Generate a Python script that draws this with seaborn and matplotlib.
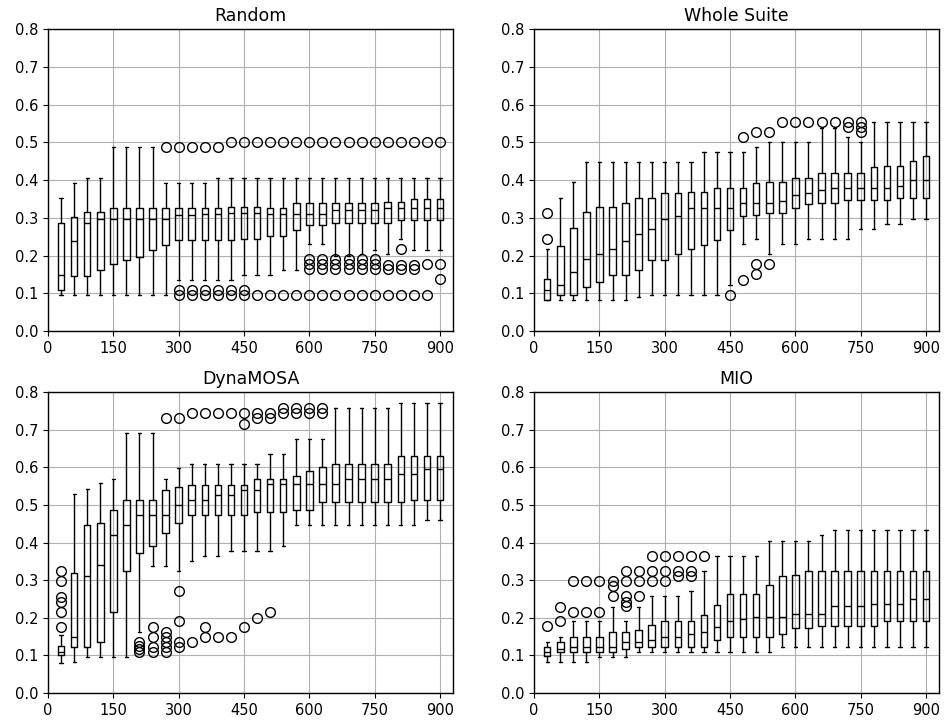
import matplotlib
matplotlib.use("Agg")
import matplotlib.pyplot as plt
import seaborn as sns

budgets = [30, 60, 90, 120, 150, 180, 210, 240, 270, 300,
           330, 360, 390, 420, 450, 480, 510, 540, 570, 600,
           630, 660, 690, 720, 750, 780, 810, 840, 870, 900]

# Random
rnd_lo = [0.095, 0.095, 0.095, 0.095, 0.095, 0.095, 0.095, 0.095, 0.095, 0.135,
          0.135, 0.135, 0.135, 0.135, 0.148, 0.148, 0.148, 0.162, 0.162, 0.23,
          0.23, 0.2, 0.2, 0.205, 0.216, 0.203, 0.245, 0.216, 0.216, 0.216]
rnd_q1 = [0.109, 0.146, 0.146, 0.163, 0.177, 0.187, 0.197, 0.214, 0.227, 0.242,
          0.242, 0.242, 0.242, 0.242, 0.245, 0.245, 0.253, 0.253, 0.268, 0.281,
          0.281, 0.285, 0.285, 0.285, 0.285, 0.285, 0.295, 0.295, 0.295, 0.295]
rnd_med = [0.148, 0.2375, 0.285, 0.298, 0.298, 0.298, 0.298, 0.298, 0.298, 0.307,
           0.307, 0.31, 0.31, 0.312, 0.312, 0.312, 0.31, 0.31, 0.31, 0.31,
           0.31, 0.32, 0.32, 0.32, 0.32, 0.327, 0.327, 0.327, 0.327, 0.327]
rnd_q3 = [0.287, 0.301, 0.315, 0.315, 0.325, 0.325, 0.325, 0.325, 0.325, 0.325,
          0.325, 0.325, 0.325, 0.329, 0.329, 0.329, 0.325, 0.325, 0.339, 0.339,
          0.339, 0.339, 0.339, 0.339, 0.339, 0.342, 0.342, 0.35, 0.35, 0.35]
rnd_hi = [0.352, 0.393, 0.405, 0.405, 0.488, 0.488, 0.488, 0.488, 0.393, 0.393,
          0.393, 0.393, 0.405, 0.405, 0.405, 0.405, 0.405, 0.405, 0.405, 0.405,
          0.405, 0.405, 0.405, 0.405, 0.405, 0.405, 0.405, 0.405, 0.405, 0.405]
rnd_out = [[], [], [], [], [], [], [], [], [0.487], [0.487, 0.108, 0.095],
           [0.487, 0.108, 0.095], [0.487, 0.108, 0.095], [0.487, 0.108, 0.095],
           [0.5, 0.108, 0.095], [0.5, 0.108, 0.095], [0.5, 0.095], [0.5, 0.095],
           [0.5, 0.095], [0.5, 0.095], [0.5, 0.19, 0.177, 0.165, 0.095],
           [0.5, 0.19, 0.177, 0.165, 0.095], [0.5, 0.19, 0.177, 0.165, 0.095],
           [0.5, 0.19, 0.177, 0.165, 0.095], [0.5, 0.19, 0.177, 0.165, 0.095],
           [0.5, 0.19, 0.177, 0.165, 0.095], [0.5, 0.175, 0.165, 0.095],
           [0.5, 0.217, 0.175, 0.165, 0.095], [0.5, 0.175, 0.165, 0.095],
           [0.5, 0.177, 0.095], [0.5, 0.177, 0.137]]

# Whole Suite
ws_lo = [0.082, 0.082, 0.082, 0.082, 0.082, 0.082, 0.082, 0.091, 0.095, 0.095,
         0.095, 0.095, 0.095, 0.095, 0.121, 0.23, 0.244, 0.203, 0.23, 0.23,
         0.244, 0.244, 0.244, 0.244, 0.271, 0.271, 0.284, 0.284, 0.298, 0.298]
ws_q1 = [0.082, 0.095, 0.095, 0.116, 0.129, 0.148, 0.148, 0.163, 0.187, 0.187,
         0.203, 0.218, 0.227, 0.242, 0.268, 0.305, 0.307, 0.312, 0.312, 0.325,
         0.336, 0.339, 0.339, 0.348, 0.348, 0.348, 0.348, 0.352, 0.352, 0.352]
ws_med = [0.109, 0.122, 0.156, 0.191, 0.203, 0.218, 0.2375, 0.257, 0.271, 0.298,
          0.306, 0.325, 0.325, 0.325, 0.325, 0.339, 0.339, 0.339, 0.344, 0.36,
          0.367, 0.373, 0.38, 0.38, 0.38, 0.38, 0.38, 0.385, 0.4, 0.4]
ws_q3 = [0.139, 0.226, 0.274, 0.315, 0.328, 0.328, 0.339, 0.352, 0.352, 0.366,
         0.366, 0.368, 0.368, 0.38, 0.38, 0.38, 0.393, 0.396, 0.396, 0.405,
         0.405, 0.419, 0.419, 0.419, 0.419, 0.434, 0.436, 0.436, 0.45, 0.464]
ws_hi = [0.218, 0.352, 0.396, 0.447, 0.447, 0.447, 0.447, 0.447, 0.447, 0.447,
         0.447, 0.447, 0.475, 0.475, 0.475, 0.475, 0.488, 0.5, 0.5, 0.5,
         0.5, 0.537, 0.537, 0.513, 0.5, 0.555, 0.555, 0.555, 0.555, 0.555]
ws_out = [[0.312, 0.244], [], [], [], [], [], [], [], [], [],
          [], [], [], [], [0.095], [0.513, 0.136], [0.527, 0.177, 0.15],
          [0.527, 0.177], [0.555], [0.555], [0.555], [0.555], [0.555],
          [0.555, 0.541], [0.555, 0.541, 0.527], [], [], [], [], []]

# DynaMOSA
dm_lo = [0.08, 0.082, 0.095, 0.095, 0.095, 0.095, 0.163, 0.337, 0.337, 0.324,
         0.352, 0.365, 0.365, 0.378, 0.378, 0.378, 0.378, 0.392, 0.446, 0.446,
         0.446, 0.446, 0.446, 0.446, 0.446, 0.446, 0.446, 0.446, 0.46, 0.46]
dm_q1 = [0.102, 0.122, 0.122, 0.135, 0.216, 0.324, 0.373, 0.392, 0.425, 0.453,
         0.474, 0.474, 0.474, 0.474, 0.474, 0.48, 0.48, 0.48, 0.487, 0.487,
         0.507, 0.507, 0.507, 0.507, 0.507, 0.507, 0.507, 0.514, 0.514, 0.514]
dm_med = [0.108, 0.149, 0.312, 0.339, 0.42, 0.447, 0.474, 0.474, 0.474, 0.5,
          0.514, 0.514, 0.527, 0.527, 0.54, 0.54, 0.556, 0.556, 0.556, 0.556,
          0.556, 0.556, 0.568, 0.568, 0.568, 0.568, 0.582, 0.582, 0.595, 0.595]
dm_q3 = [0.125, 0.318, 0.447, 0.453, 0.487, 0.514, 0.514, 0.514, 0.54, 0.548,
         0.553, 0.553, 0.553, 0.553, 0.553, 0.568, 0.568, 0.568, 0.576, 0.589,
         0.601, 0.608, 0.608, 0.608, 0.608, 0.608, 0.629, 0.629, 0.629, 0.629]
dm_hi = [0.154, 0.528, 0.542, 0.557, 0.57, 0.692, 0.692, 0.692, 0.57, 0.597,
         0.608, 0.608, 0.608, 0.608, 0.608, 0.608, 0.635, 0.635, 0.676, 0.676,
         0.676, 0.758, 0.758, 0.758, 0.758, 0.758, 0.772, 0.772, 0.772, 0.772]
dm_out = [[0.175, 0.215, 0.243, 0.255, 0.297, 0.325], [], [], [], [], [],
          [0.136, 0.126, 0.117, 0.108], [0.175, 0.148, 0.122, 0.108],
          [0.73, 0.163, 0.15, 0.136, 0.122, 0.109], [0.73, 0.27, 0.19, 0.136, 0.122],
          [0.743, 0.136], [0.743, 0.175, 0.148], [0.743, 0.148], [0.743, 0.148],
          [0.743, 0.716, 0.175], [0.743, 0.73, 0.2], [0.743, 0.73, 0.216],
          [0.757, 0.743], [0.757, 0.743], [0.757, 0.743], [0.757, 0.743],
          [], [], [], [], [], [], [], [], []]

# MIO
mio_lo = [0.082, 0.082, 0.082, 0.082, 0.095, 0.095, 0.095, 0.109, 0.109, 0.109,
          0.109, 0.109, 0.109, 0.109, 0.109, 0.109, 0.109, 0.109, 0.122, 0.122,
          0.122, 0.122, 0.122, 0.122, 0.122, 0.122, 0.122, 0.122, 0.122, 0.122]
mio_q1 = [0.097, 0.109, 0.109, 0.109, 0.109, 0.109, 0.118, 0.122, 0.122, 0.122,
          0.122, 0.122, 0.122, 0.14, 0.149, 0.149, 0.149, 0.149, 0.156, 0.172,
          0.172, 0.177, 0.177, 0.177, 0.177, 0.177, 0.19, 0.19, 0.19, 0.19]
mio_med = [0.109, 0.118, 0.122, 0.122, 0.122, 0.122, 0.135, 0.135, 0.142, 0.149,
           0.149, 0.156, 0.163, 0.176, 0.19, 0.197, 0.203, 0.203, 0.203, 0.21,
           0.21, 0.21, 0.23, 0.23, 0.23, 0.237, 0.237, 0.237, 0.25, 0.25]
mio_q3 = [0.122, 0.135, 0.149, 0.149, 0.149, 0.163, 0.163, 0.167, 0.18, 0.19,
          0.19, 0.19, 0.206, 0.233, 0.264, 0.264, 0.264, 0.286, 0.311, 0.314,
          0.325, 0.325, 0.325, 0.325, 0.325, 0.325, 0.325, 0.325, 0.325, 0.325]
mio_hi = [0.135, 0.149, 0.19, 0.19, 0.19, 0.229, 0.19, 0.229, 0.257, 0.257,
          0.257, 0.27, 0.325, 0.365, 0.365, 0.365, 0.365, 0.405, 0.405, 0.405,
          0.405, 0.42, 0.433, 0.433, 0.433, 0.433, 0.433, 0.433, 0.433, 0.433]
mio_out = [[0.177], [0.229, 0.19], [0.298, 0.216], [0.298, 0.216], [0.298, 0.216],
           [0.298, 0.285, 0.257], [0.325, 0.298, 0.257, 0.243, 0.23],
           [0.325, 0.298, 0.257], [0.365, 0.325, 0.298], [0.365, 0.325, 0.298],
           [0.365, 0.325, 0.312], [0.365, 0.325, 0.312], [0.365],
           [], [], [], [], [], [], [], [], [], [], [], [], [], [], [], [], []]

titles = ["Random", "Whole Suite", "DynaMOSA", "MIO"]

sns.set_theme(style="ticks", rc={
    "axes.grid": True,
    "grid.color": "#b0b0b0",
    "grid.linewidth": 0.8,
    "axes.edgecolor": "black",
    "axes.linewidth": 1.0,
    "xtick.color": "black",
    "ytick.color": "black",
    "xtick.major.size": 3.5,
    "ytick.major.size": 3.5,
    "xtick.major.width": 0.8,
    "ytick.major.width": 0.8,
    "text.color": "black",
    "axes.labelcolor": "black",
    "xtick.labelsize": 10.5,
    "ytick.labelsize": 10.5,
    "axes.titlesize": 12.5,
})
plt.rcParams["font.family"] = ["DejaVu Sans"]

fig = plt.figure(figsize=(9.47, 7.26), dpi=100)
boxes = [
    (rnd_lo, rnd_q1, rnd_med, rnd_q3, rnd_hi, rnd_out),
    (ws_lo, ws_q1, ws_med, ws_q3, ws_hi, ws_out),
    (dm_lo, dm_q1, dm_med, dm_q3, dm_hi, dm_out),
    (mio_lo, mio_q1, mio_med, mio_q3, mio_hi, mio_out),
]
rects = [
    [0.0507, 0.544, 0.4277, 0.416],
    [0.564, 0.544, 0.4277, 0.416],
    [0.0507, 0.0455, 0.4277, 0.4145],
    [0.564, 0.0455, 0.4277, 0.4145],
]

for i in range(4):
    ax = fig.add_axes(rects[i])
    lo, q1, med, q3, hi, out = boxes[i]
    stats = []
    for j in range(len(budgets)):
        stats.append(dict(whislo=lo[j], q1=q1[j], med=med[j], q3=q3[j],
                          whishi=hi[j], fliers=out[j]))
    ax.bxp(stats, positions=budgets, widths=15, manage_ticks=False,
           boxprops=dict(color="black", linewidth=1.0),
           whiskerprops=dict(color="black", linewidth=1.0),
           capprops=dict(color="black", linewidth=1.0),
           medianprops=dict(color="black", linewidth=1.0),
           flierprops=dict(marker="o", markerfacecolor="none",
                           markeredgecolor="black", markersize=7,
                           markeredgewidth=1.0))
    ax.set_xlim(0, 930)
    ax.set_ylim(0, 0.8)
    ax.set_xticks([0, 150, 300, 450, 600, 750, 900])
    ax.set_yticks([0.0, 0.1, 0.2, 0.3, 0.4, 0.5, 0.6, 0.7, 0.8])
    ax.set_title(titles[i])

fig.savefig("out.png", dpi=100)
